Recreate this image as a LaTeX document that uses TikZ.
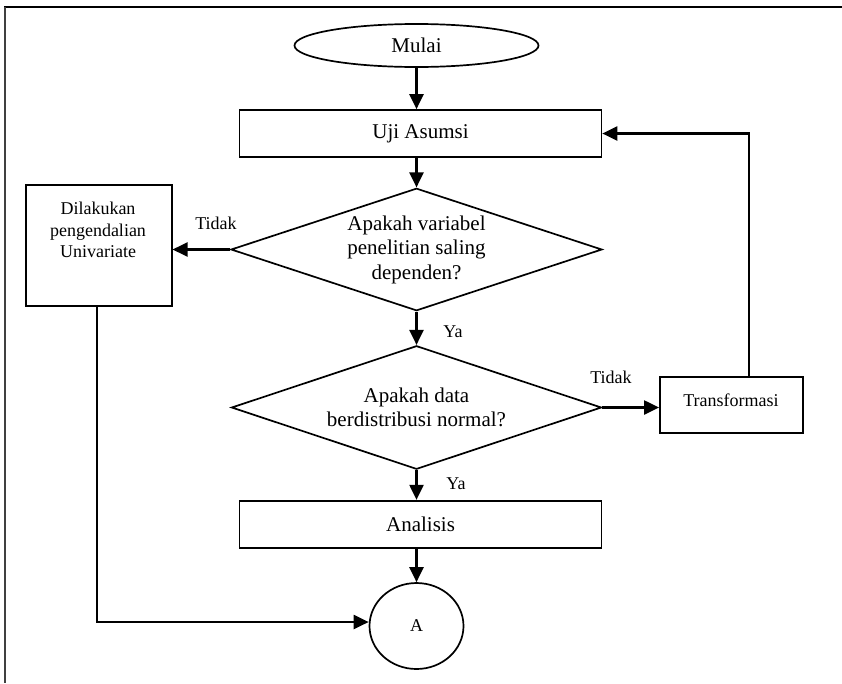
\documentclass[tikz,border=0pt]{standalone}
\usepackage{fontspec}
\setmainfont{Liberation Serif}
\usetikzlibrary{arrows.meta,shapes.geometric}
\begin{document}
\begin{tikzpicture}[x=1pt,y=-1pt,
  outline/.style={draw,line width=1.7pt,inner sep=0pt},
  box/.style={outline,rectangle},
  decision/.style={outline,diamond,shape aspect=3,align=center,font=\fontsize{21}{24.5}\selectfont},
  flow/.style={line width=2.2pt,-{Triangle[length=15pt,width=14pt]}},
  big/.style={font=\fontsize{21}{24}\selectfont},
  small/.style={font=\fontsize{18}{21.7}\selectfont,inner sep=0pt,align=center}]
\useasboundingbox (0,0) rectangle (842,683);
% page frame
\draw[line width=2.5pt] (4,7) -- (842,7);
\draw[line width=2pt,black!75] (5,7) -- (5,683);

% shapes
\node[outline,ellipse,big,minimum width=244pt,minimum height=43pt] (mulai) at (416.5,45.5) {Mulai};
\node[box,big,minimum width=362pt,minimum height=47pt] (uji) at (420.5,133.5) {Uji Asumsi};
\node[decision,minimum width=371pt,minimum height=122.5pt] (d1) at (416.5,249.5)
  {Apakah variabel\\penelitian saling\\dependen?};
\node[decision,minimum width=370pt,minimum height=123.5pt] (d2) at (416.5,407.5)
  {Apakah data\\berdistribusi normal?};
\node[box,minimum width=146pt,minimum height=120.7pt] (dil) at (98.7,245.3) {};
\node[small] (diltext) at (98,230) {Dilakukan\\pengendalian\\Univariate};
\node[box,minimum width=142.7pt,minimum height=56.6pt] (trans) at (731.3,405) {};
\node[small] (transtext) at (731,400) {Transformasi};
\node[box,big,minimum width=362pt,minimum height=47.6pt] (ana) at (420.5,524.5) {Analisis};
\node[outline,ellipse,small,minimum width=94pt,minimum height=86pt] (A) at (416.5,626) {A};

% labels
\node[small] (t1) at (216,223) {Tidak};
\node[small] (y1) at (453,332) {Ya};
\node[small] (t2) at (611,377) {Tidak};
\node[small] (y2) at (456,484) {Ya};

% connectors
\draw[flow] (mulai.south) -- (mulai.south |- uji.north);
\draw[flow] (uji.south -| d1.north) -- (d1.north);
\draw[flow] (d1.west) -- (d1.west -| dil.east);
\draw[flow] (d1.south) -- (d2.north);
\draw[flow] (d2.east) -- (d2.east -| trans.west);
\draw[flow] (trans.north -| 749,0) |- (uji.east);
\draw[flow] (d2.south) -- (d2.south |- ana.north);
\draw[flow] (ana.south -| A.north) -- (A.north);
\draw[flow] (dil.south -| 97,0) |- ([yshift=4pt]A.west);
\end{tikzpicture}
\end{document}
